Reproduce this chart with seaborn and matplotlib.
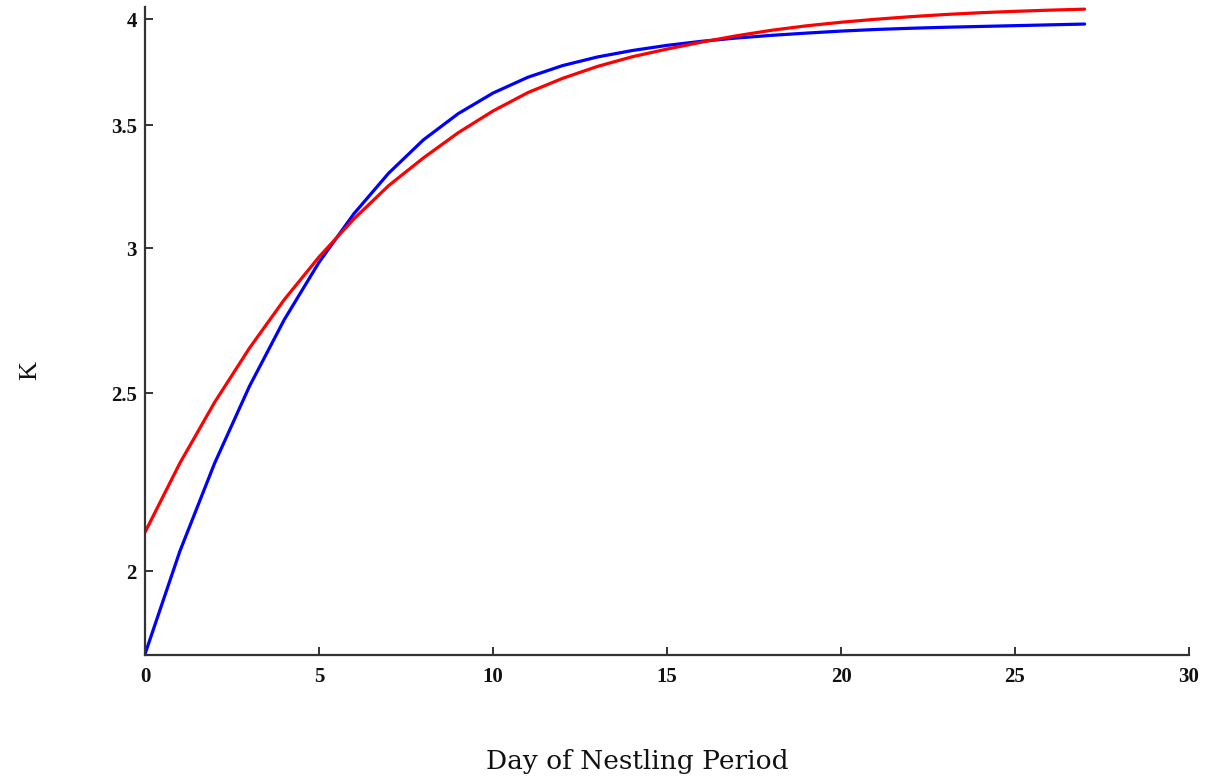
import numpy as np
import pandas as pd
import matplotlib
matplotlib.use("Agg")
import matplotlib.pyplot as plt
from matplotlib.ticker import FixedLocator, FixedFormatter, NullLocator
import seaborn as sns

days = list(range(0, 28))
k_blue = [1.802, 2.050, 2.290, 2.522, 2.742, 2.947, 3.132, 3.296, 3.437, 3.552,
          3.645, 3.718, 3.773, 3.814, 3.845, 3.870, 3.890, 3.906, 3.919, 3.930,
          3.940, 3.948, 3.954, 3.959, 3.963, 3.967, 3.971, 3.975]
k_red = [2.100, 2.290, 2.472, 2.646, 2.812, 2.967, 3.112, 3.245, 3.360, 3.468,
         3.564, 3.647, 3.713, 3.769, 3.815, 3.852, 3.886, 3.917, 3.944, 3.966,
         3.984, 3.999, 4.012, 4.023, 4.032, 4.039, 4.045, 4.050]
series_names = ["blue", "red"]
series_colors = ["#0000ff", "#ff0000"]
x_ticks = [0, 5, 10, 15, 20, 25, 30]
y_ticks = [2, 2.5, 3, 3.5, 4]
y_tick_labels = ["2", "2.5", "3", "3.5", "4"]
x_label = "Day of Nestling Period"
y_label = "K"

df = pd.DataFrame({
    "day": days + days,
    "K": k_blue + k_red,
    "series": [series_names[0]] * len(days) + [series_names[1]] * len(days),
})

sns.set_theme(style="ticks")
plt.rcParams["font.family"] = ["Liberation Serif", "DejaVu Serif"]

fig = plt.figure(figsize=(12.07, 7.82), dpi=100)
ax = fig.add_axes([145 / 1207, 1 - 655 / 782, (1189 - 145) / 1207, 647.8 / 782])

sns.lineplot(data=df, x="day", y="K", hue="series", palette=dict(zip(series_names, series_colors)),
             linewidth=2.3, legend=False, ax=ax, estimator=None, sort=True)

ax.set_yscale("log")
ax.set_xlim(0, 30)
ax.set_ylim(1.80, 4.06)
ax.yaxis.set_major_locator(FixedLocator(y_ticks))
ax.yaxis.set_major_formatter(FixedFormatter(y_tick_labels))
ax.yaxis.set_minor_locator(NullLocator())
ax.set_xticks(x_ticks)
ax.set_xticklabels([str(t) for t in x_ticks])

for side in ["top", "right"]:
    ax.spines[side].set_visible(False)
for side in ["left", "bottom"]:
    ax.spines[side].set_color("#333333")
    ax.spines[side].set_linewidth(1.6)

ax.tick_params(axis="both", direction="in", length=6, width=1.4, color="#333333",
               labelsize=15, pad=6)
for lab in ax.get_xticklabels() + ax.get_yticklabels():
    lab.set_fontweight("bold")
    lab.set_color("#111111")
ax.tick_params(axis="x", pad=9)
ax.set_xlabel("")
ax.set_ylabel("")

fig.text(637 / 1207, 1 - 762 / 782, x_label, ha="center", va="center",
         fontsize=19, family=["DejaVu Serif"], color="#111111")
fig.text(30 / 1207, 1 - 370 / 782, y_label, ha="center", va="center", rotation=90,
         fontsize=19, family=["Liberation Serif"], color="#111111")

fig.savefig("out.png", dpi=100)
